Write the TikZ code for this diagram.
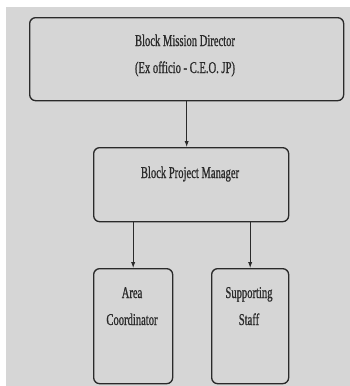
\documentclass[tikz,border=0pt]{standalone}
\usepackage{fontspec}
\setmainfont{Liberation Serif}[FakeStretch=0.64,FakeBold=0.8]
\usetikzlibrary{arrows.meta}
\definecolor{bg}{HTML}{D6D6D6}
\definecolor{ink}{HTML}{2A2A2A}
\tikzset{
  orgbox/.style={draw=ink, line width=1pt, rounded corners=4.5pt, inner sep=0pt, anchor=north west},
  lbl/.style={text=ink, anchor=base, inner sep=0pt, font=\fontsize{12.4}{15}\selectfont},
  arr/.style={draw=ink, line width=0.65pt, -{Latex[length=4.5pt,width=3.2pt]}}
}
\begin{document}
\begin{tikzpicture}[x=0.75pt,y=-0.75pt]
\useasboundingbox (0,0) rectangle (350,386);
\fill[white] (0,0) rectangle (350,386);
\fill[bg] (6,7) rectangle (350,386);
% boxes
\node[orgbox, minimum width=314*0.75pt, minimum height=83*0.75pt] (dir) at (29,17) {};
\node[orgbox, minimum width=195*0.75pt, minimum height=74*0.75pt] (pm) at (93,147) {};
\node[orgbox, minimum width=79*0.75pt, minimum height=115*0.75pt] (ac) at (93,268) {};
\node[orgbox, minimum width=77*0.75pt, minimum height=115*0.75pt] (ss) at (211,268) {};
% texts
\node[lbl] (t1) at (185,46) {Block Mission Director};
\node[lbl] (t2) at (185,73) {(Ex officio - C.E.O. JP)};
\node[lbl] (t3) at (190,178) {Block Project Manager};
\node[lbl] (t4) at (132,298) {Area};
\node[lbl] (t5) at (132,325) {Coordinator};
\node[lbl] (t6) at (249,298) {Supporting};
\node[lbl] (t7) at (249,325) {Staff};
% connectors
\draw[arr] (dir.south) -- (dir.south |- pm.north);
\draw[arr] (ac.north |- pm.south) -- (ac.north);
\draw[arr] (ss.north |- pm.south) -- (ss.north);
\end{tikzpicture}
\end{document}
